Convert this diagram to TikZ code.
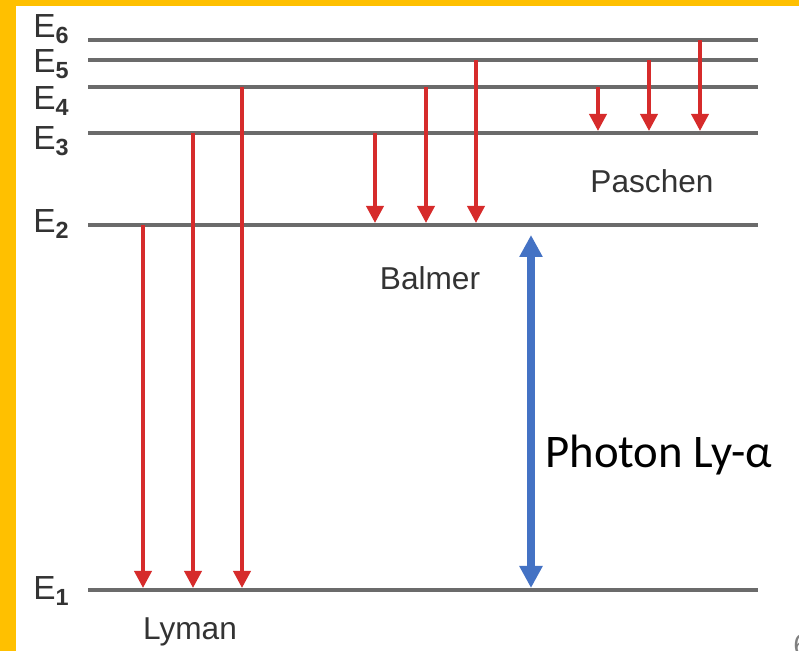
\documentclass[tikz,border=0pt]{standalone}
\usepackage{fontspec}
\setmainfont{Liberation Sans}
\newfontfamily\calibrifont{Carlito}
\usetikzlibrary{arrows.meta,positioning,calc}
\definecolor{LevelGray}{HTML}{6B6B6B}
\definecolor{LineRed}{HTML}{D62B2B}
\definecolor{PhotonBlue}{HTML}{4472C4}
\definecolor{FrameGold}{HTML}{FFC000}
\definecolor{LabelInk}{HTML}{333333}
\begin{document}
\begin{tikzpicture}[
  level/.style={draw=LevelGray, line width=2.4pt},
  emit/.style={-{Triangle[width=0.34cm, length=0.34cm]}, draw=LineRed,
               line width=2.1pt, shorten >=0.04cm},
  photon/.style={{Triangle[width=0.44cm, length=0.44cm]}-{Triangle[width=0.44cm, length=0.44cm]},
                 draw=PhotonBlue, line width=4.5pt, shorten <=0.2cm, shorten >=0.04cm},
  elabel/.style={anchor=base west, text=LabelInk, inner sep=0pt,
                 font=\fontsize{19}{19}\selectfont},
  series/.style={anchor=base, text=LabelInk, inner sep=0pt,
                 font=\fontsize{18}{18}\selectfont}
]
\useasboundingbox (0,0) rectangle (15.98,13.02);
\fill[FrameGold] (0,0) rectangle (0.32,13.02);
\fill[FrameGold] (0,12.90) rectangle (15.98,13.02);
\foreach \n/\y/\b in {1/1.22/1.02, 2/8.52/8.36, 3/10.36/10.02,
                      4/11.28/10.82, 5/11.82/11.56, 6/12.22/12.26} {
  \coordinate (E\n) at (1.76,\y);
  \draw[level] (E\n) -- ++(13.4,0);
  \node[elabel] (n\n) at (0.66,\b) {E\textsubscript{\textbf{\n}}};
}
\foreach \c/\x in {ly1/2.86, ly2/3.86, ly3/4.84, ba1/7.5, ba2/8.52, ba3/9.52,
                   pa1/11.96, pa2/12.98, pa3/14.0, ph/10.62}
  \coordinate (\c) at (\x,0);
\draw[emit] (ly1 |- E2) -- (ly1 |- E1);
\draw[emit] (ly2 |- E3) -- (ly2 |- E1);
\draw[emit] (ly3 |- E4) -- (ly3 |- E1);
\draw[emit] (ba1 |- E3) -- (ba1 |- E2);
\draw[emit] (ba2 |- E4) -- (ba2 |- E2);
\draw[emit] (ba3 |- E5) -- (ba3 |- E2);
\draw[emit] (pa1 |- E4) -- (pa1 |- E3);
\draw[emit] (pa2 |- E5) -- (pa2 |- E3);
\draw[emit] (pa3 |- E6) -- (pa3 |- E3);
\draw[photon] (ph |- E2) -- (ph |- E1);
\node[series] (lyman) at (3.8,0.22) {Lyman};
\node[series] (balmer) at (8.6,7.22) {Balmer};
\node[series] (paschen) at (13.04,9.16) {Paschen};
\node[anchor=base west, inner sep=0pt, font=\calibrifont\fontsize{26.6}{27}\selectfont]
  (lya) at (10.9,3.66) {Photon Ly-α};
\node[anchor=base west, inner sep=0pt, text=gray, font=\fontsize{17}{17}\selectfont]
  (page) at (15.86,-0.1) {6};
\end{tikzpicture}
\end{document}
